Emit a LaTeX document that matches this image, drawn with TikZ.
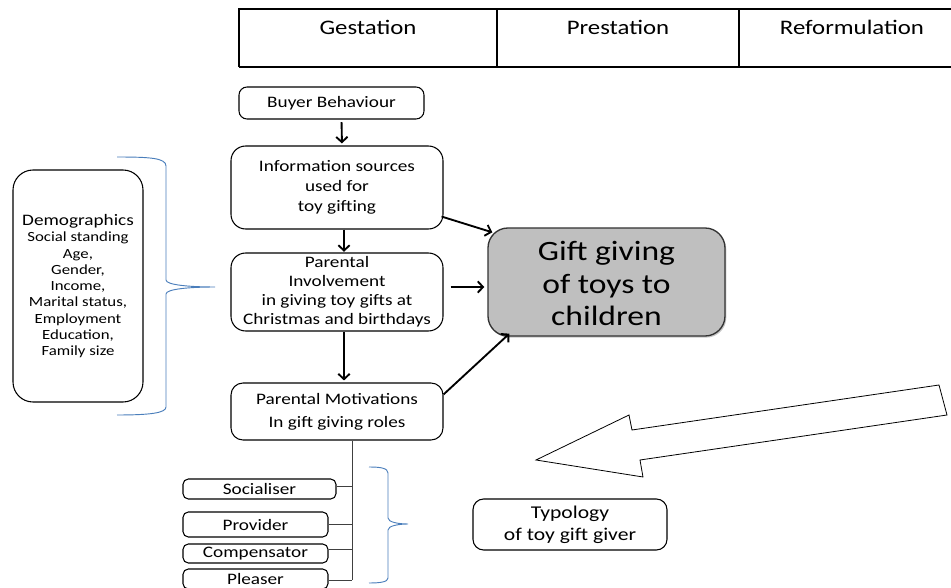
\documentclass[tikz,border=0pt]{standalone}
\usepackage{fontspec}
\setmainfont[FakeStretch=1.2]{Carlito}
\usetikzlibrary{arrows.meta,shadows}
\definecolor{bracecol}{HTML}{4A7EBB}
\definecolor{giftfill}{HTML}{BFBFBF}
\begin{document}
\begin{tikzpicture}[x=0.75pt,y=-0.75pt,
  box/.style={draw=black, line width=0.8pt, rounded corners=#1, align=center, inner sep=0pt},
  box/.default=6pt,
  flow/.style={line width=1.4pt, -{Straight Barb[length=4pt,width=8.5pt,line width=1.4pt]}},
  link/.style={line width=0.7pt, draw=black!75},
  brace/.style={draw=bracecol, line width=0.7pt},
  rule/.style={line width=0.8pt},
  hdr/.style={font=\fontsize{15.5}{18}\selectfont, inner sep=0pt},
  txt/.style={font=\fontsize{12}{15}\selectfont},
  role/.style={box=4pt, font=\fontsize{12}{14}\selectfont, minimum width=108.75pt}]
\useasboundingbox (0,0) rectangle (951,588);

% stage header table (runs off the right edge)
\draw[rule] (980,9) -- (239,9) -- (239,67);
\draw[line width=1.6pt] (239,67) -- (980,67);
\draw[rule] (497,9) -- (497,67) (739,9) -- (739,67);
\node[hdr] (gest) at (368,27) {Gestation};
\node[hdr] (prest) at (618,27) {Prestation};
\node[hdr] (reform) at (852,27) {Reformulation};

% main chain
\node[box, txt, minimum width=138.75pt, minimum height=24pt] (buyer) at (331.5,103) {Buyer Behaviour};
\node[box=11pt, txt, minimum width=159pt, minimum height=62.25pt] (info) at (337,187.5)
  {Information sources\\used for\\toy gifting};
\node[box=11pt, font=\fontsize{12}{14.3}\selectfont, minimum width=159pt, minimum height=58.5pt] (invol) at (337,292)
  {Parental\\Involvement\\in giving toy gifts at\\Christmas and birthdays};
\node[box=9pt, font=\fontsize{12}{17.3}\selectfont, minimum width=159pt, minimum height=42.75pt] (motiv) at (337,411.5)
  {Parental Motivations\\In gift giving roles};

% central outcome
\node[box=15pt, draw=black!80, fill=giftfill, line width=1pt,
      drop shadow={shadow xshift=1pt, shadow yshift=-1.2pt, opacity=0.45},
      font=\fontsize{21}{24.4}\selectfont, minimum width=177.75pt, minimum height=81pt] (gift) at (606.5,282)
  {\rule{0pt}{17pt}Gift giving\\of toys to\\children};

% demographics
\node[box=15pt, font=\fontsize{10.5}{12.2}\selectfont, minimum width=97.5pt, minimum height=174pt] (demo) at (78,286)
  {{\fontsize{12}{13.5}\selectfont Demographics}\\[0.3pt]Social standing\\Age,\\Gender,\\Income,\\Marital status,\\Employment\\Education,\\Family size};

% giver roles
\node[role, minimum width=114.75pt, minimum height=15pt] (soc) at (259.5,489) {Socialiser};
\node[role, minimum height=18.75pt] (prov) at (255.5,524.5) {Provider};
\node[role, minimum height=14.25pt] (comp) at (255.5,553.5) {Compensator};
\node[role, minimum height=15pt] (pleas) at (255.5,579) {Pleaser};

\node[box=8pt, font=\fontsize{13.5}{16.5}\selectfont, minimum width=145.5pt, minimum height=38.25pt] (typo) at (570,524.5)
  {Typology\\of toy gift giver};

% flow arrows
\draw[flow, shorten <=2pt, shorten >=1.5pt] ([xshift=7.5pt]buyer.south) -- ([xshift=3.75pt]info.north);
\draw[flow, shorten >=0.5pt] ([xshift=5.25pt]info.south) -- ([xshift=5.25pt]invol.north);
\draw[flow, shorten >=1.5pt] ([xshift=5.25pt]invol.south) -- ([xshift=5.25pt]motiv.north);
\draw[flow] ([shift={(-2,-13)}]info.south east) -- ([shift={(5,5)}]gift.north west);
\draw[flow] ([shift={(7,-5)}]invol.east) -- ([shift={(-3,5)}]gift.west);
\draw[flow] ([shift={(0,12)}]motiv.north east) -- ([shift={(22,-3)}]gift.south west);

% role tree
\coordinate (trunk) at (352,0);
\draw[link] (motiv.south -| trunk) -- ([yshift=-1pt]pleas.east -| trunk);
\draw[link] ([yshift=2pt]soc.east) -- ([yshift=2pt]soc.east -| trunk);
\draw[link] (prov.east) -- (prov.east -| trunk);
\draw[link] ([yshift=3pt]comp.east) -- ([yshift=3pt]comp.east -| trunk);
\draw[link] ([yshift=-1pt]pleas.east) -- ([yshift=-1pt]pleas.east -| trunk);

% braces
\draw[brace] (117,157) .. controls (150,157) and (166,158) .. (166,166) -- (166,280)
  .. controls (166,285) and (190,287) .. (215,287)
  .. controls (190,287) and (166,289) .. (166,294) -- (166,407)
  .. controls (166,413) and (150,415) .. (117,415);
\draw[brace] (369,467) .. controls (380,467) and (388,468) .. (388,473) -- (388,518)
  .. controls (388,522) and (398,524) .. (408,524)
  .. controls (398,524) and (388,526) .. (388,530) -- (388,578)
  .. controls (388,582) and (380,583) .. (369,583);

% hollow block arrow
\draw[line width=0.6pt, fill=white] (939,385) -- (947,415) -- (640,460) -- (643,477)
  -- (536,460) -- (629,415) -- (632,430) -- cycle;
\end{tikzpicture}
\end{document}
